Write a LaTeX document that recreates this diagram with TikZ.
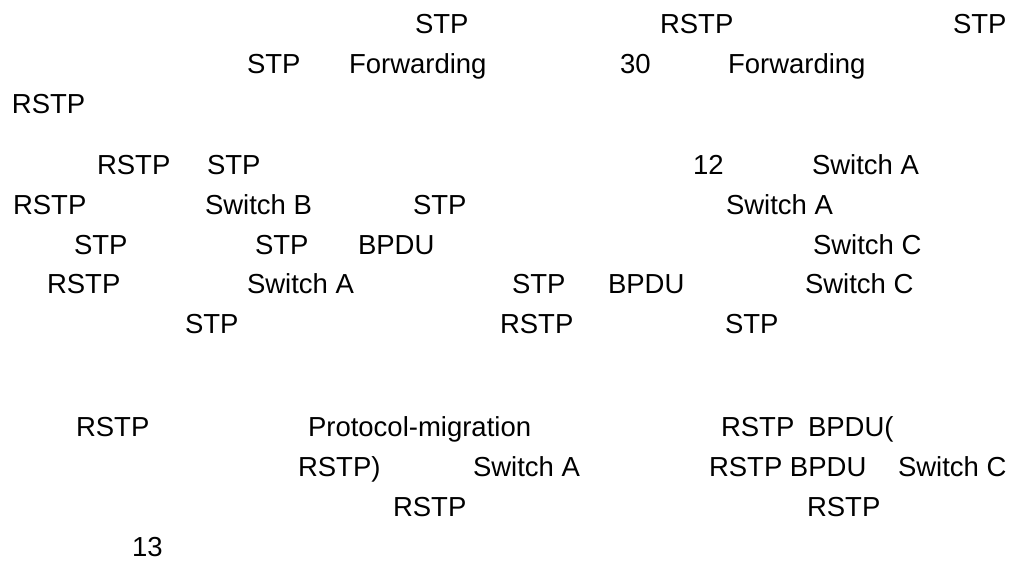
\documentclass[tikz,border=0pt]{standalone}
\usepackage{fontspec}
\setmainfont{Liberation Sans}
\tikzset{frag/.style={anchor=base west,inner sep=0pt,outer sep=0pt,font=\fontsize{27.5}{33}\selectfont}}
\begin{document}
\begin{tikzpicture}[x=1pt,y=-1pt]

%Line baselines
\def\la{33}
\def\lb{73}
\def\lc{113}
\def\ld{174}
\def\le{214}
\def\lf{254}
\def\lg{293}
\def\lh{333}
\def\li{436}
\def\lj{476}
\def\lk{516}
\def\ll{556}
\useasboundingbox (0,0) rectangle (1015,563);

%First paragraph
\node[frag] (stpA) at (415,\la) {STP};
\node[frag] (rstpA) at (660,\la) {RSTP};
\node[frag] (stpB) at (953,\la) {STP};
\node[frag] (stpC) at (247,\lb) {STP};
\node[frag] (fwdA) at (349,\lb) {Forwarding};
\node[frag] (thirty) at (620,\lb) {30};
\node[frag] (fwdB) at (728,\lb) {Forwarding};
\node[frag] (rstpB) at (12,\lc) {RSTP};

%Second paragraph
\node[frag] (rstpC) at (97,\ld) {RSTP};
\node[frag] (stpD) at (207,\ld) {STP};
\node[frag] (twelve) at (693,\ld) {12};
\node[frag] (swA1) at (812,\ld) {Switch A};
\node[frag] (rstpD) at (13,\le) {RSTP};
\node[frag] (swB) at (205,\le) {Switch B};
\node[frag] (stpE) at (413,\le) {STP};
\node[frag] (swA2) at (726,\le) {Switch A};
\node[frag] (stpF) at (74,\lf) {STP};
\node[frag] (stpG) at (255,\lf) {STP};
\node[frag] (bpduA) at (358,\lf) {BPDU};
\node[frag] (swC1) at (813,\lf) {Switch C};
\node[frag] (rstpE) at (47,\lg) {RSTP};
\node[frag] (swA3) at (247,\lg) {Switch A};
\node[frag] (stpH) at (512,\lg) {STP};
\node[frag] (bpduB) at (608,\lg) {BPDU};
\node[frag] (swC2) at (805,\lg) {Switch C};
\node[frag] (stpI) at (185,\lh) {STP};
\node[frag] (rstpF) at (500,\lh) {RSTP};
\node[frag] (stpJ) at (725,\lh) {STP};

%Third paragraph
\node[frag] (rstpG) at (76,\li) {RSTP};
\node[frag] (pmig) at (308,\li) {Protocol-migration};
\node[frag] (rstpH) at (721,\li) {RSTP};
\node[frag] (bpduC) at (808,\li) {BPDU(};
\node[frag] (rstpI) at (298,\lj) {RSTP)};
\node[frag] (swA4) at (473,\lj) {Switch A};
\node[frag] (rstpJ) at (709,\lj) {RSTP BPDU};
\node[frag] (swC3) at (898,\lj) {Switch C};
\node[frag] (rstpK) at (393,\lk) {RSTP};
\node[frag] (rstpL) at (807,\lk) {RSTP};
\node[frag] (thirteen) at (132,\ll) {13};
\end{tikzpicture}
\end{document}
